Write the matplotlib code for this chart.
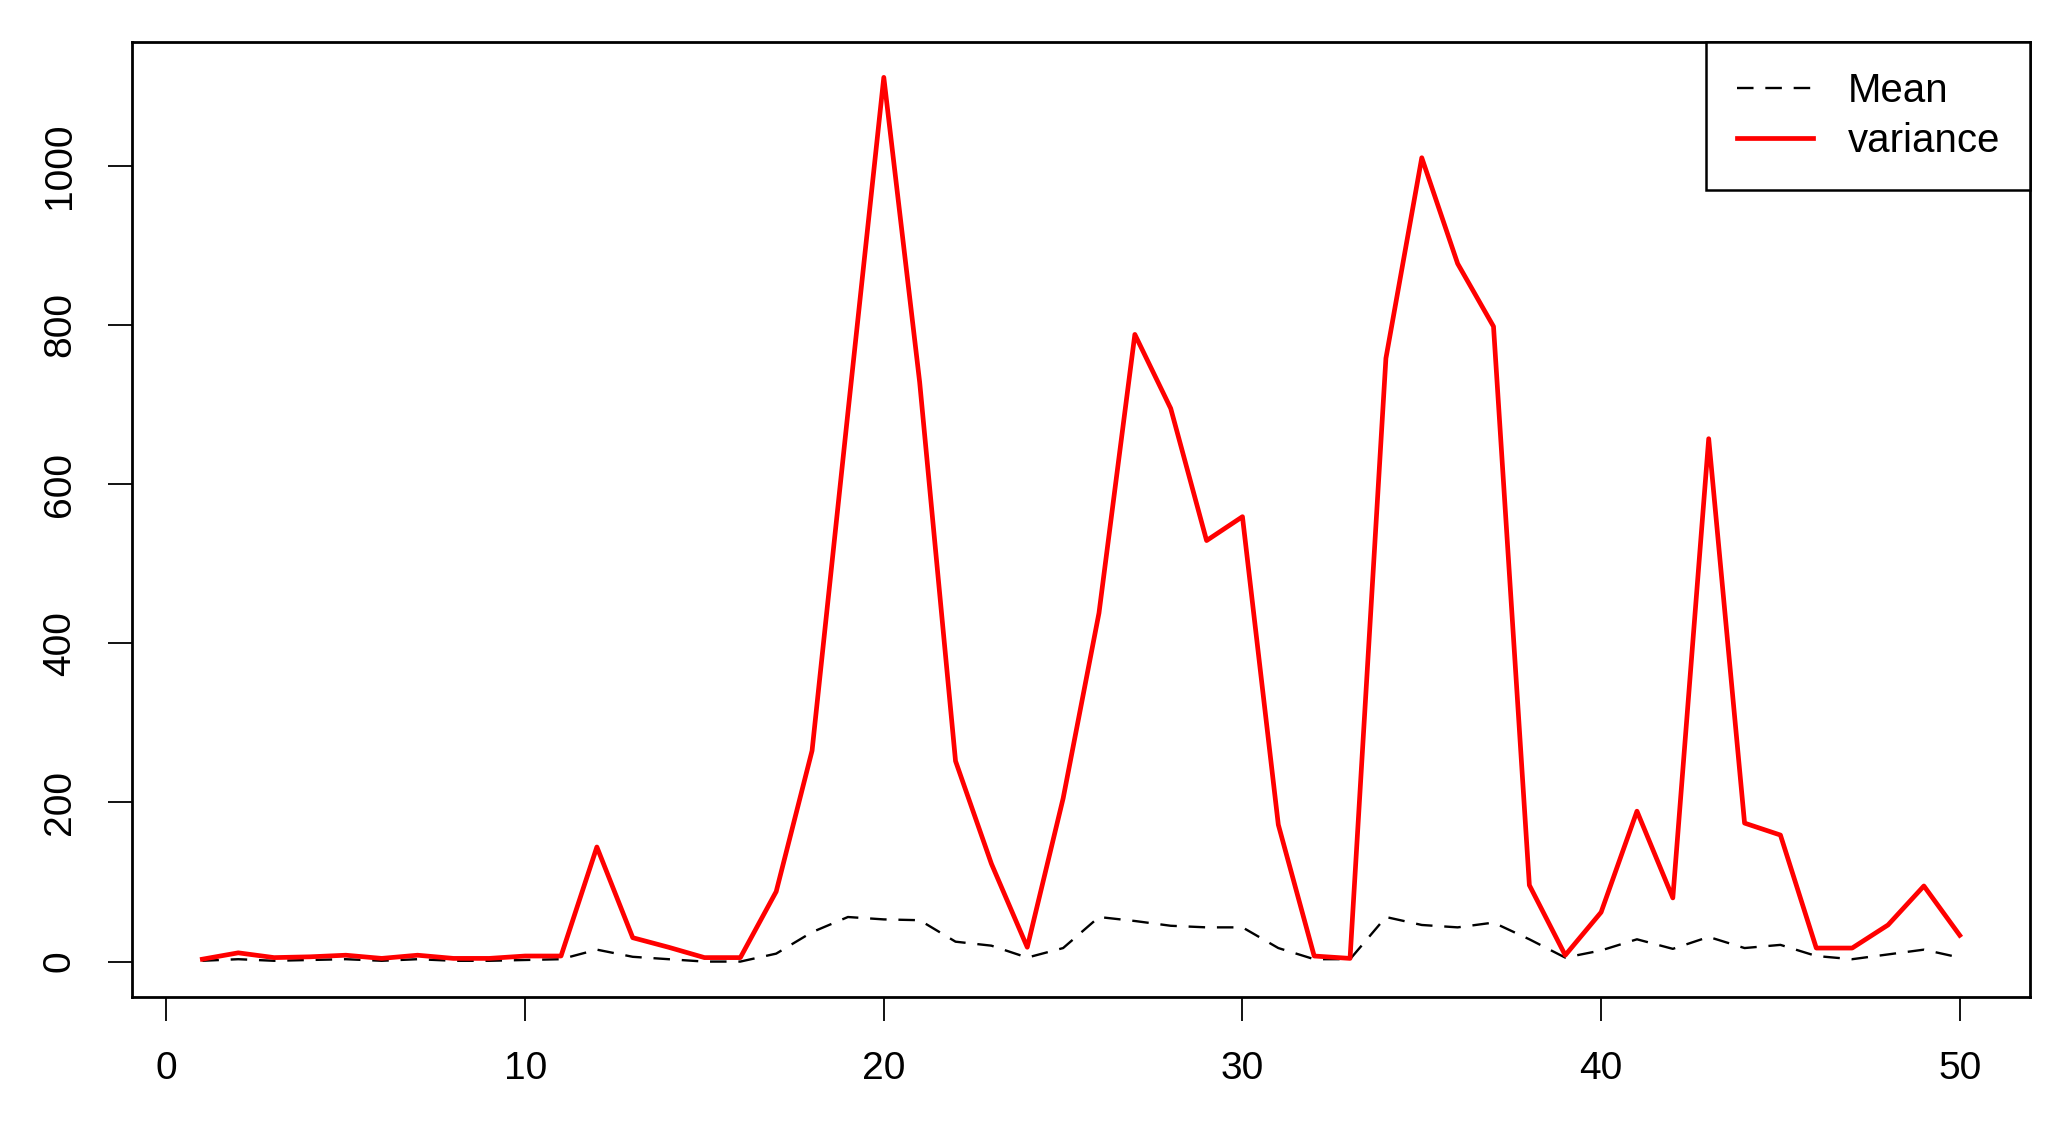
import matplotlib
matplotlib.use("Agg")
import matplotlib.pyplot as plt
import numpy as np

plt.rcParams.update({
    "font.family": ["Liberation Sans", "DejaVu Sans"],
    "font.size": 28,
})

# series
index = np.arange(1, 51)
mean_vals = [1, 3, 1, 2, 3, 1, 3, 1, 1, 2,
             3, 15, 6, 3, 0, 0, 10, 37, 56, 53,
             52, 25, 20, 5, 17, 56, 51, 45, 43, 43,
             17, 3, 3, 56, 46, 43, 49, 28, 5, 14,
             28, 16, 31, 17, 21, 7, 3, 9, 15, 5]
variance_vals = [3, 11, 5, 6, 8, 4, 8, 4, 4, 7,
                 7, 144, 30, 18, 5, 5, 88, 265, 690, 1111,
                 728, 252, 123, 18, 205, 438, 788, 695, 529, 559,
                 172, 7, 4, 758, 1010, 877, 798, 96, 8, 62,
                 189, 80, 657, 174, 159, 17, 17, 46, 95, 33]
x_ticks = [0, 10, 20, 30, 40, 50]
y_ticks = [0, 200, 400, 600, 800, 1000]

fig = plt.figure(figsize=(20.7, 11.32), dpi=100)
ax = fig.add_axes([0.0638, 0.1193, 0.9169, 0.8436])

ax.plot(index, mean_vals, color="black", lw=1.7, linestyle=(0, (7, 5)), label="Mean")
ax.plot(index, variance_vals, color="red", lw=3.4, label="variance")

# R-style 4% padding
xr = index.max() - index.min()
ax.set_xlim(index.min() - 0.04 * xr, index.max() + 0.04 * xr)
ymin = min(min(mean_vals), min(variance_vals))
ymax = max(max(mean_vals), max(variance_vals))
yr = ymax - ymin
ax.set_ylim(ymin - 0.04 * yr, ymax + 0.04 * yr)

ax.set_xticks(x_ticks)
ax.set_yticks(y_ticks)
ax.set_yticklabels([str(v) for v in y_ticks], rotation=90, va="center")
ax.tick_params(axis="both", length=17, width=1.3, pad=22, labelsize=28)

for s in ax.spines.values():
    s.set_linewidth(2.0)

leg = ax.legend(loc="upper right", bbox_to_anchor=(1, 1), borderaxespad=0,
                fancybox=False, framealpha=1, edgecolor="black",
                handlelength=1.9, handletextpad=0.85, borderpad=0.75,
                labelspacing=0.3, fontsize=29)
leg.get_frame().set_linewidth(1.8)

fig.savefig("out.png", dpi=100)
